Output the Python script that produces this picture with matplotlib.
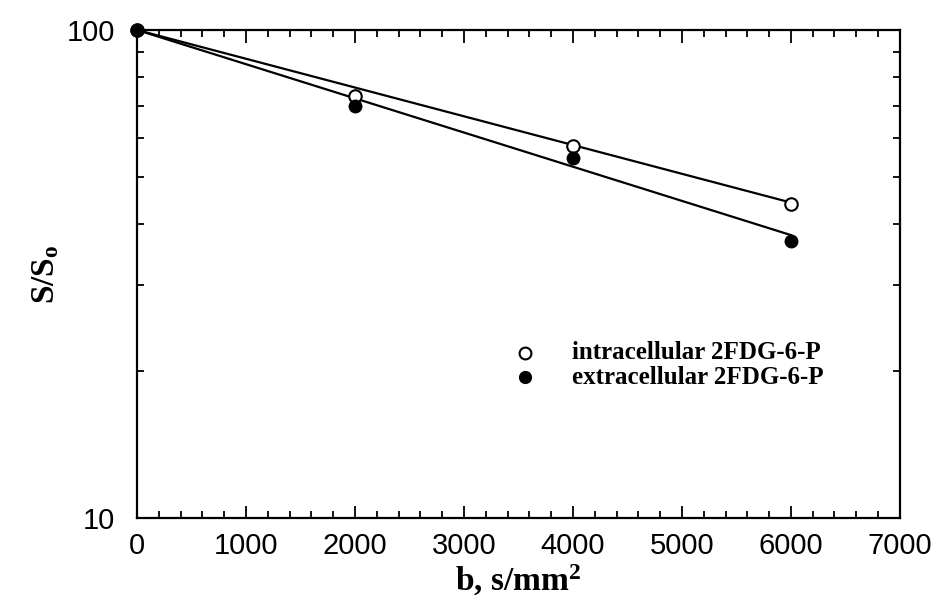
import matplotlib
matplotlib.use("Agg")
import matplotlib.pyplot as plt
from matplotlib.ticker import FixedLocator, MultipleLocator, NullFormatter

# data
b_vals = [0, 2000, 4000, 6000]
intra = [100, 73.3, 57.9, 44.0]
extra = [100, 69.9, 54.7, 36.9]

# fitted lines (end points)
fit_b = [0, 6000]
fit_intra = [100, 44.3]
fit_extra = [100, 38.0]

plt.rcParams["mathtext.default"] = "regular"

fig = plt.figure(figsize=(9.36, 6.05), dpi=100)
ax = fig.add_axes([0.1464, 0.1438, 0.815, 0.8066])

ax.plot(fit_b, fit_intra, color="black", lw=1.6, zorder=2)
ax.plot(fit_b, fit_extra, color="black", lw=1.6, zorder=2)
ax.plot(b_vals, intra, "o", ms=9, mfc="white", mec="black", mew=1.5, zorder=3, clip_on=False)
ax.plot(b_vals, extra, "o", ms=9, mfc="black", mec="black", zorder=4, clip_on=False)

ax.set_yscale("log")
ax.set_xlim(0, 7000)
ax.set_ylim(10, 100)

ax.xaxis.set_major_locator(MultipleLocator(1000))
ax.xaxis.set_minor_locator(MultipleLocator(200))
ax.yaxis.set_major_locator(FixedLocator([10, 100]))
ax.yaxis.set_minor_locator(FixedLocator(range(20, 100, 10)))
ax.yaxis.set_minor_formatter(NullFormatter())
ax.set_yticklabels(["10", "100"])

ax.tick_params(which="both", direction="in", top=True, right=True, width=1.3)
ax.tick_params(which="major", length=9, labelsize=21)
ax.tick_params(axis="x", which="major", pad=10)
ax.tick_params(axis="y", which="major", pad=16)
ax.tick_params(which="minor", length=5)
for lab in ax.get_xticklabels() + ax.get_yticklabels():
    lab.set_family("Liberation Sans")
for sp in ax.spines.values():
    sp.set_linewidth(1.6)

ax.set_xlabel("b, s/mm$^2$", family="Liberation Serif", weight="bold", fontsize=24, labelpad=2)
ax.set_ylabel("S/S$_o$", family="Liberation Serif", weight="bold", fontsize=24, labelpad=4)

# legend drawn by hand to match the layout
ax.plot([3560], [21.8], "o", ms=8.5, mfc="white", mec="black", mew=1.5)
ax.plot([3560], [19.45], "o", ms=8.5, mfc="black", mec="black")
ax.text(3991, 21.8, "intracellular 2FDG-6-P", family="Liberation Serif", weight="bold",
        fontsize=18, va="center")
ax.text(3991, 19.45, "extracellular 2FDG-6-P", family="Liberation Serif", weight="bold",
        fontsize=18, va="center")

fig.savefig("out.png", dpi=100)
